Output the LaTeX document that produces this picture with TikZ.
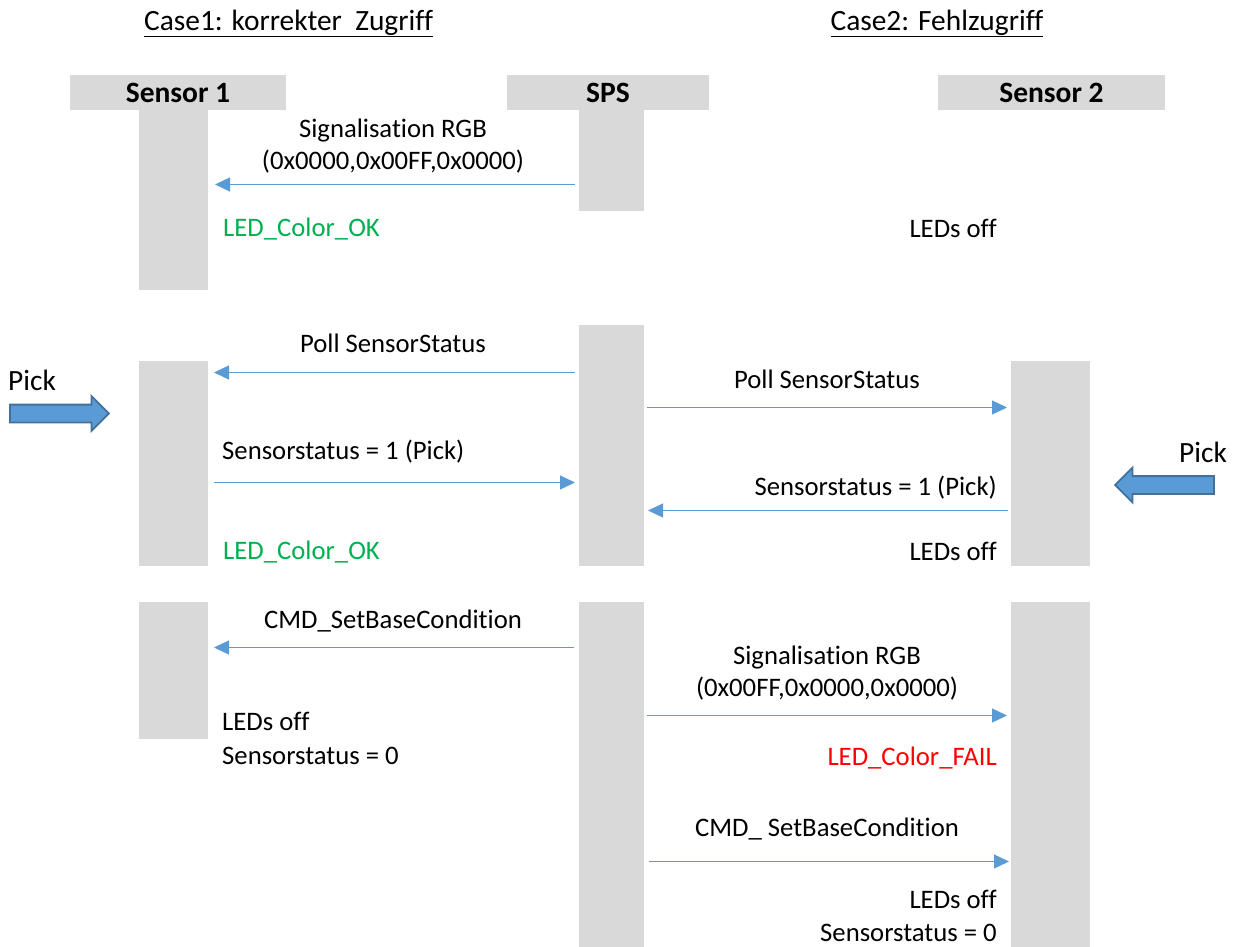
\documentclass[tikz,border=0pt]{standalone}
\usepackage{fontspec}
\setmainfont[Ligatures=CommonOff]{Carlito}
\usetikzlibrary{arrows.meta,shapes.arrows}
\definecolor{barg}{HTML}{D9D9D9}
\definecolor{lineb}{HTML}{5B9BD5}
\definecolor{okg}{HTML}{00B050}
\definecolor{pickf}{HTML}{5B9BD5}
\definecolor{pickd}{HTML}{41719C}
\tikzset{x=1pt,y=-1pt,
 bar/.style={fill=barg,draw=none,inner sep=0,outer sep=0,anchor=north west},
 head/.style={fill=barg,draw=none,inner sep=0,outer sep=0,anchor=north west,font=\fontsize{29.5}{32}\selectfont\bfseries},
 lab/.style={inner sep=0,font=\fontsize{26.7}{32}\selectfont,align=center},
 big/.style={font=\fontsize{29.4}{32}\selectfont},
 msg/.style={draw=lineb,line width=1.3pt,-{Triangle[length=15pt,width=14pt]}},
 pickarrow/.style={draw=pickd,line width=1.8pt,fill=pickf,single arrow,inner sep=8pt,outer sep=0,minimum height=99pt,minimum width=33pt,single arrow head extend=8.5pt,single arrow head indent=0pt}}
\newcommand{\rbar}[5]{\node[bar,minimum width=#4pt,minimum height=#5pt] (#1) at (#2,#3) {};}
\begin{document}
\begin{tikzpicture}
\useasboundingbox (0,0) rectangle (1237,947);
\node[lab,big] (c1) at (288.5,23.5) {\underline{Case1: korrekter\ \ Zugriff}};
\node[lab,big] (c2) at (937,23.5) {\underline{Case2: Fehlzugriff}};
\node[head,minimum width=216pt,minimum height=35pt] (h1) at (70,75) {Sensor 1};
\node[head,minimum width=202pt,minimum height=35pt] (h2) at (507,75) {SPS};
\node[head,minimum width=227pt,minimum height=35pt] (h3) at (938,75) {Sensor 2};
\rbar{a1}{139}{110}{69}{180}
\rbar{a2}{139}{361}{69}{205}
\rbar{a3}{139}{602}{69}{137}
\rbar{b1}{579}{110}{65}{101}
\rbar{b2}{579}{325}{65}{241}
\rbar{b3}{579}{602}{65}{345}
\rbar{d2}{1011}{361}{79}{205}
\rbar{d3}{1011}{602}{79}{345}
\coordinate (m1s) at (575,184.5); \coordinate (m1e) at (215,184.5);
\coordinate (m2s) at (575,372.5); \coordinate (m2e) at (214,372.5);
\coordinate (m3s) at (214,482.5); \coordinate (m3e) at (575,482.5);
\coordinate (m4s) at (574,647.5); \coordinate (m4e) at (214,647.5);
\coordinate (n1s) at (647,407.5); \coordinate (n1e) at (1007,407.5);
\coordinate (n2s) at (1008,510.5); \coordinate (n2e) at (648,510.5);
\coordinate (n3s) at (647,715.5); \coordinate (n3e) at (1007,715.5);
\coordinate (n4s) at (649,861.5); \coordinate (n4e) at (1009,861.5);
\foreach \p in {m1,m2,m3,m4,n1,n2,n3,n4}{\draw[msg] (\p s) -- (\p e);}
\node[lab] (t1) at (393,146) {Signalisation RGB\\(0x0000,0x00FF,0x0000)};
\node[lab,anchor=west,text=okg] (t2) at (223,229.5) {LED\_Color\_OK};
\node[lab,anchor=east] (t3) at (997,228) {LEDs off};
\node[lab] (t4) at (393,343) {Poll SensorStatus};
\node[lab] (t5) at (827,379) {Poll SensorStatus};
\node[lab,anchor=west] (t6) at (222,452) {Sensorstatus = 1 (Pick)};
\node[lab,anchor=east] (t7) at (997,488) {Sensorstatus = 1 (Pick)};
\node[lab,anchor=west,text=okg] (t8) at (223,552.5) {LED\_Color\_OK};
\node[lab,anchor=east] (t9) at (997,551) {LEDs off};
\node[lab] (t10) at (393,621.5) {CMD\_SetBaseCondition};
\node[lab] (t11) at (827,673.5) {Signalisation RGB\\(0x00FF,0x0000,0x0000)};
\node[lab,anchor=west] (t12) at (222,721) {LEDs off};
\node[lab,anchor=west] (t13) at (222,756) {Sensorstatus = 0};
\node[lab,anchor=east,text=red] (t14) at (997,758.5) {LED\_Color\_FAIL};
\node[lab] (t15) at (827,829.5) {CMD\_ SetBaseCondition};
\node[lab,anchor=east] (t16) at (997,899) {LEDs off};
\node[lab,anchor=east] (t17) at (997,933) {Sensorstatus = 0};
\node[lab,big] (p1) at (32,380) {Pick};
\node[lab,big] (p2) at (1203,452) {Pick};
\node[pickarrow] (pa1) at (55,413.5) {};
\node[pickarrow,shape border rotate=180] (pa2) at (1169,485) {};
\end{tikzpicture}
\end{document}
